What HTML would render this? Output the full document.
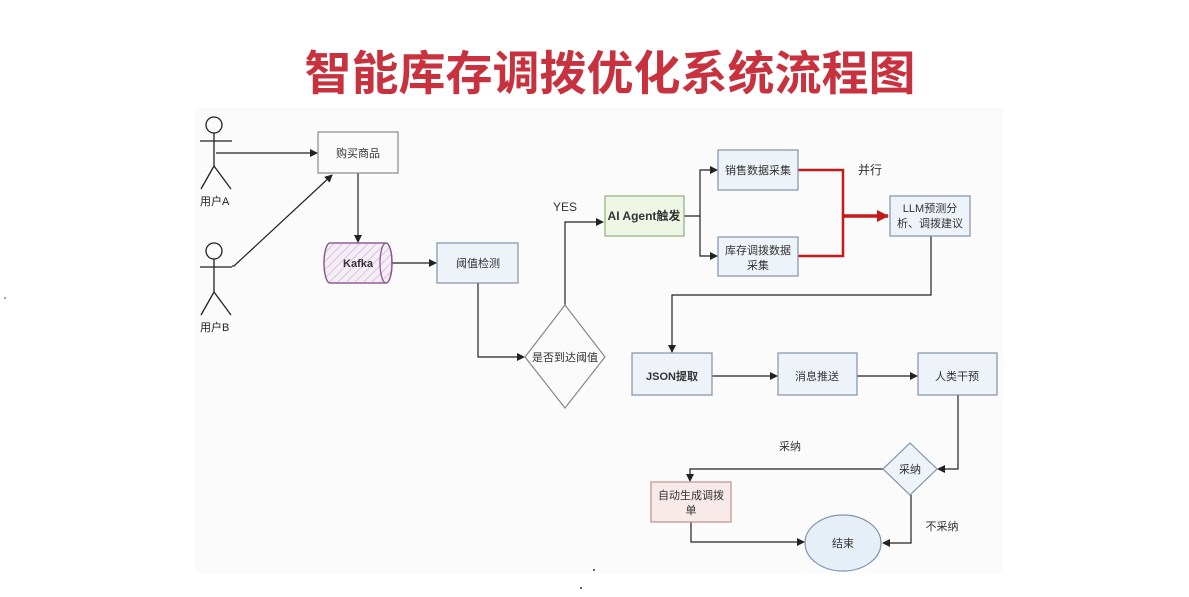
<!DOCTYPE html>
<html><head><meta charset="utf-8"><style>
html,body{margin:0;padding:0;background:#fff;}
svg{display:block;font-family:"Liberation Sans","Noto Sans CJK SC",sans-serif;}
</style></head><body>
<svg width="1189" height="597" viewBox="0 0 1189 597" xmlns="http://www.w3.org/2000/svg">
<defs>
<marker id="a" markerWidth="8" markerHeight="8" refX="7" refY="4" orient="auto" markerUnits="userSpaceOnUse"><path d="M0,0 L8,4 L0,8 z" fill="#222"/></marker>
<marker id="r" markerWidth="12" markerHeight="12" refX="11" refY="6" orient="auto" markerUnits="userSpaceOnUse"><path d="M0,0 L12,6 L0,12 z" fill="#c41a1a"/></marker>
<pattern id="h" width="6" height="6" patternUnits="userSpaceOnUse" patternTransform="rotate(45)"><line x1="0" y1="0" x2="0" y2="6" stroke="#d9c2dc" stroke-width="2"/></pattern>
</defs>
<rect x="195" y="108" width="808" height="465" fill="#fbfbfb"/>
<text x="610" y="90" text-anchor="middle" font-size="47" font-weight="bold" fill="#c8323f" font-family="Liberation Sans,Noto Sans CJK SC,sans-serif">智能库存调拨优化系统流程图</text>
<g stroke="#222" stroke-width="1.3" fill="none">
<circle cx="214" cy="125" r="8"/><line x1="214" y1="133" x2="214" y2="166"/><line x1="200" y1="141" x2="232" y2="141"/><line x1="214" y1="166" x2="201" y2="189"/><line x1="214" y1="166" x2="231" y2="189"/>
<circle cx="214" cy="251" r="8"/><line x1="214" y1="259" x2="214" y2="292"/><line x1="200" y1="267" x2="232" y2="267"/><line x1="214" y1="292" x2="201" y2="315"/><line x1="214" y1="292" x2="231" y2="315"/>
</g>
<g font-size="11" fill="#222"><text x="200" y="205">用户A</text><text x="200" y="331">用户B</text></g>
<g stroke="#222" stroke-width="1.2" fill="none" marker-end="url(#a)">
<line x1="216" y1="153" x2="317" y2="153"/>
<polyline points="232,266 234,266 332,175"/>
<line x1="358" y1="173" x2="358" y2="242"/>
<line x1="392" y1="263" x2="436" y2="263"/>
<polyline points="478,283 478,357 524,357"/>
<polyline points="565,305 565,222 603,222"/>
<polyline points="684,216 700,216 700,170 717,170"/>
<polyline points="700,216 700,256 717,256"/>
<polyline points="931,236 931,295 672,295 672,352"/>
<line x1="712" y1="376" x2="777" y2="376"/>
<line x1="857" y1="376" x2="917" y2="376"/>
<polyline points="958,395 958,469 938,469"/>
<polyline points="884,469 690,469 690,481"/>
<polyline points="691,522 691,542 804,542"/>
<polyline points="911,495 911,543 883,543"/>
</g>
<g stroke="#c41a1a" stroke-width="2.5" fill="none">
<polyline points="798,170 843,170 843,256 798,256"/>
<line x1="843" y1="216" x2="888" y2="216" marker-end="url(#r)" stroke-width="3.5"/>
</g>
<g stroke="#888" stroke-width="1.2">
<rect x="318" y="132" width="80" height="41" fill="#fafafa"/>
<rect x="437" y="243" width="81" height="40" fill="#eef3f9" stroke="#7f93aa"/>
<rect x="605" y="196" width="79" height="40" fill="#eef6e6" stroke="#8fb07a"/>
<rect x="718" y="150" width="80" height="40" fill="#eef3f9" stroke="#7f93aa"/>
<rect x="718" y="237" width="80" height="39" fill="#eef3f9" stroke="#7f93aa"/>
<rect x="890" y="196" width="80" height="40" fill="#eef3f9" stroke="#7f93aa"/>
<rect x="632" y="353" width="80" height="42" fill="#eef3f9" stroke="#7f93aa"/>
<rect x="778" y="353" width="79" height="42" fill="#eef3f9" stroke="#7f93aa"/>
<rect x="918" y="353" width="79" height="42" fill="#eef3f9" stroke="#7f93aa"/>
<rect x="651" y="482" width="80" height="40" fill="#f9eaea" stroke="#c09090"/>
<polygon points="565,305 605,357 565,408 525,357" fill="#fafafa"/>
<polygon points="910,443 937,469 910,495 883,469" fill="#eef3f9" stroke="#7f93aa"/>
<ellipse cx="843" cy="543" rx="38" ry="28" fill="#e6eff8" stroke="#7f93aa"/>
</g>
<g stroke="#8a5a8e" stroke-width="1.3">
<path d="M330,243 H386 A6,20 0 0 1 386,283 H330 A6,20 0 0 1 330,243 z" fill="#f6eef7"/>
<path d="M330,243 H386 A6,20 0 0 1 386,283 H330 A6,20 0 0 1 330,243 z" fill="url(#h)"/>
<ellipse cx="386" cy="263" rx="6" ry="20" fill="none"/>
</g>
<g font-size="11" fill="#333" text-anchor="middle">
<text x="358" y="157">购买商品</text>
<text x="358" y="267" font-weight="bold">Kafka</text>
<text x="478" y="267">阈值检测</text>
<text x="565" y="361">是否到达阈值</text>
<text x="565" y="211" font-size="12">YES</text>
<text x="644" y="220" font-size="12" font-weight="bold">AI Agent触发</text>
<text x="758" y="174">销售数据采集</text>
<text x="758" y="254">库存调拨数据</text>
<text x="758" y="269">采集</text>
<text x="870" y="174" font-size="12">并行</text>
<text x="930" y="212">LLM预测分</text>
<text x="930" y="227">析、调拨建议</text>
<text x="672" y="380" font-weight="bold">JSON提取</text>
<text x="817" y="380">消息推送</text>
<text x="957" y="380">人类干预</text>
<text x="910" y="473">采纳</text>
<text x="790" y="450">采纳</text>
<text x="691" y="499">自动生成调拨</text>
<text x="691" y="514">单</text>
<text x="843" y="547">结束</text>
<text x="942" y="530">不采纳</text>
</g>
<circle cx="5" cy="298" r="0.8" fill="#333"/>
<circle cx="594" cy="570" r="1" fill="#333"/>
<circle cx="581" cy="588" r="1" fill="#333"/>
</svg>
</body></html>
